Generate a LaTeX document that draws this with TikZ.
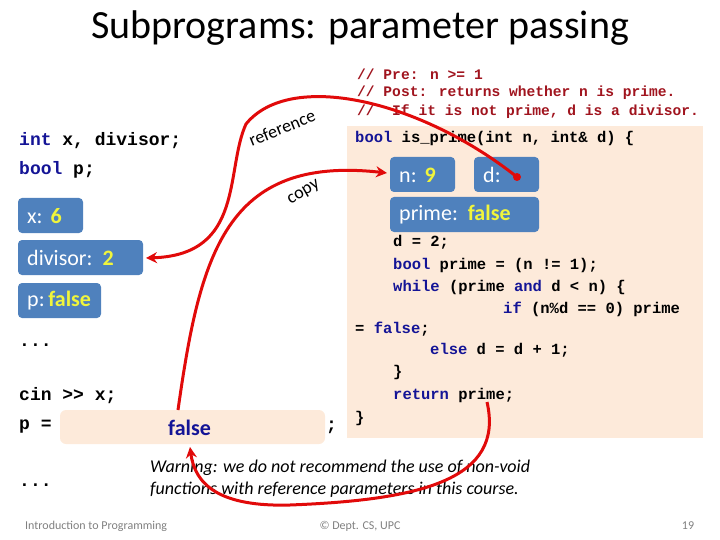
\documentclass[tikz,border=0pt]{standalone}
\usepackage{fontspec}
\setmainfont{Carlito}
\newfontfamily\cfont{Liberation Mono}
\usetikzlibrary{arrows.meta}
\definecolor{kw}{RGB}{20,20,150}
\definecolor{cm}{RGB}{160,20,30}
\definecolor{bx}{RGB}{79,129,189}
\definecolor{yl}{RGB}{240,245,60}
\definecolor{pe}{RGB}{253,234,218}
\definecolor{rd}{RGB}{225,10,10}
\tikzset{
 code/.style={anchor=west,inner sep=0pt,font=\cfont\bfseries\fontsize{15.5}{18}\selectfont},
 lcode/.style={anchor=west,inner sep=0pt,font=\cfont\bfseries\fontsize{18}{20}\selectfont},
 cmt/.style={anchor=west,inner sep=0pt,text=cm,font=\cfont\bfseries\fontsize{14.6}{16}\selectfont},
 varbox/.style={draw=none,fill=bx,rounded corners=4pt},
 vlab/.style={anchor=west,inner sep=0pt,text=white,font=\fontsize{22}{24}\selectfont},
 arr/.style={rd,line width=3pt,-{Stealth[length=11pt,width=11pt]}},
}
\newcommand{\Y}[1]{\textcolor{yl}{\bfseries #1}}
\newcommand{\K}[1]{\textcolor{kw}{#1}}
\begin{document}
\begin{tikzpicture}[x=1pt,y=-1pt]
\useasboundingbox (0,0) rectangle (720,540);
\node (title) at (360,28) {\fontsize{40}{44}\selectfont Subprograms: parameter passing};
% left code
\node[lcode] (l1) at (19,141) {\K{int} x, divisor;};
\node[lcode] (l2) at (19,170) {\K{bool} p;};
\path[varbox] (18,198) rectangle (83,233); \node[vlab] (bx) at (27,216) {x:\hspace{8pt}\Y{6}};
\path[varbox] (18,240) rectangle (143,275); \node[vlab] (bdiv) at (27,258) {divisor:\hspace{10pt}\Y{2}};
\path[varbox] (18,283) rectangle (101,318); \node[vlab] (bp) at (27,301) {p:\,\Y{false}};
\coordinate (divR) at (146,258);
\node[lcode] (dots1) at (19,345) {...};
\node[lcode] (cin) at (19,396) {cin >> x;};
\node[lcode] (peq) at (19,427) {p =};
\path[fill=pe,rounded corners=6pt] (60,410) rectangle (325,444);
\node[anchor=west,inner sep=0pt,text=kw,font=\bfseries\fontsize{22}{24}\selectfont] (fal) at (168,428) {false};
\node[lcode] (semi) at (326,427) {;};
\node[lcode] (dots2) at (19,485) {...};
% right
\node[cmt] (c1) at (357,74) {// Pre: n >= 1};
\node[cmt] (c2) at (357,93) {// Post: returns whether n is prime.};
\node[cmt] (c3) at (357,112) {//\hspace{1.2em}If it is not prime, d is a divisor.};
\path[fill=pe] (347,126) rectangle (703,438);
\node[code] (f0) at (355,138) {\K{bool} is\_prime(int n, int\& d) \{};
\path[varbox] (390,157) rectangle (455,192); \node[vlab] (bn) at (399,175) {n:\hspace{8pt}\Y{9}};
\path[varbox] (474,157) rectangle (539,192); \node[vlab] (bd) at (483,175) {d:};
\path[varbox] (390,197) rectangle (539,232); \node[vlab] (bpr) at (399,215) {prime:\hspace{10pt}\Y{false}};
\node[code] (f1) at (393,242) {d = 2;};
\node[code] (f2) at (393,265) {\K{bool} prime = (n != 1);};
\node[code] (f3) at (393,287) {\K{while} (prime \K{and} d < n) \{};
\node[code] (f4) at (503,309) {\K{if} (n\%d == 0) prime};
\node[code] (f5) at (355,329) {= \K{false};};
\node[code] (f6) at (430,350) {\K{else} d = d + 1;};
\node[code] (f7) at (393,372) {\}};
\node[code] (f8) at (393,395) {\K{return} prime;};
\node[code] (f9) at (355,418) {\}};
\coordinate (dot) at (517,177);
\coordinate (nL) at (387,173);
\coordinate (retS) at (487,402);
\coordinate (falT) at (178,410);
\coordinate (falB) at (190,447);
% warning and footer
\node[anchor=west,inner sep=0pt,font=\itshape\fontsize{18}{20}\selectfont] (w1) at (150,468) {Warning: we do not recommend the use of non-void};
\node[anchor=west,inner sep=0pt,font=\itshape\fontsize{18}{20}\selectfont] (w2) at (150,490) {functions with reference parameters in this course.};
\node[anchor=west,inner sep=0pt,text=gray,font=\fontsize{12}{13}\selectfont] (ft1) at (25,526) {Introduction to Programming};
\node[inner sep=0pt,text=gray,font=\fontsize{12}{13}\selectfont] (ft2) at (360,526) {© Dept. CS, UPC};
\node[inner sep=0pt,text=gray,font=\fontsize{12}{13}\selectfont] (ft3) at (688,526) {19};
% arrows
\fill[rd] (dot) circle (4pt);
\draw[arr] (dot) .. controls (420,100) and (290,70) .. (246,124) .. controls (225,170) and (245,255) .. (divR);
\node[rotate=22,font=\fontsize{18}{19}\selectfont] (reflab) at (282,128) {reference};
\draw[arr] (falT) .. controls (200,255) and (225,155) .. (nL);
\node[rotate=30,font=\fontsize{18}{19}\selectfont] (copylab) at (304,193) {copy};
\draw[arr] (retS) .. controls (505,480) and (420,500) .. (290,505) .. controls (220,507) and (195,485) .. (falB);
\end{tikzpicture}
\end{document}
